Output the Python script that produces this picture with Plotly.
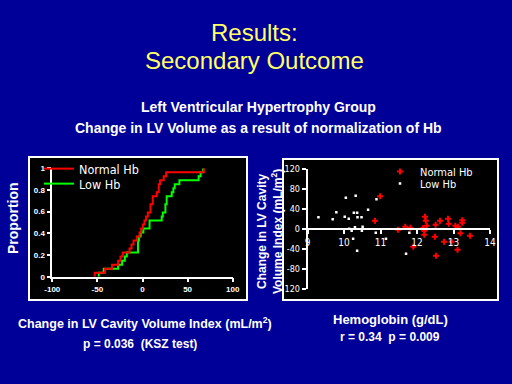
import plotly.graph_objects as go

# ---------------- data ----------------
# Left panel: change in LV cavity volume index (mL/m2), one value per patient
normal_change = [-53, -41.5, -33.7, -27, -24.4, -21.9, -14.4, -12.2, -10, -6.3, -3.3, -1.5,
                 0.4, 2.2, 4, 5.9, 8.8, 8.8, 11.4, 11.4, 15.8, 18, 18, 19.5, 23.5, 26.2, 68]
low_change = [-48.5, -43, -27, -22.6, -19.6, -17.4, -5, -5, -5, -4, -2, 1, 7.8, 7.8,
              21.3, 22.5, 25.4, 25.4, 26.8, 26.8, 32.4, 34.2, 35.7, 40.9, 62.2, 64.4, 67.3]

# Right panel: hemoglobin (g/dL) vs change in LV cavity volume index
normal_hb = [10.99, 10.85, 11.48, 11.68, 11.82, 11.9, 12.22, 12.24, 12.16, 12.2, 12.2, 12.27,
             12.51, 12.49, 12.52, 12.63, 12.74, 12.85, 12.87, 12.95, 13.05, 13.12, 13.11,
             13.19, 13.24, 13.24, 13.45]
normal_dv = [66, 17, -1, 5, 3, -35, 25, 17, 2, -3, -11, 7,
             9, -15, -53, 17, -25, 21, 11, -25, 7, 5, -41,
             -8, 18, 13, -13]
low_hb = [10.05, 10.32, 10.89, 10.66, 9.79, 10.27, 10.36, 10.37, 10.02, 9.3, 9.69, 10.13,
          10.48, 10.14, 10.3, 10.21, 10.49, 10.51, 10.25, 10.36, 10.87, 11.15, 11.7, 11.79]
low_dv = [63, 67, 60, 39, 34, 33, 33, 24, 25, 24, 20, 21,
          24, 1, 4, -3, -3, 5, -19, -43, -7, -19, -49, -7]

left_xticks = [-100, -50, 0, 50, 100]
left_yticks = [0, 0.2, 0.4, 0.6, 0.8, 1]
left_ylabels = ["0", "0.2", "0.4", "0.6", "0.8", "1"]
right_xticks = [9, 10, 11, 12, 13, 14]
right_yticks = [-120, -80, -40, 0, 40, 80, 120]

# ---------------- helpers ----------------
W, H = 512, 384
def px(x):
    return x / W
def py(y):
    return (H - y) / H

def ecdf(vals):
    s = sorted(vals)
    n = len(s)
    xs = [s[0]] + s
    ys = [0] + [(i + 1) / n for i in range(n)]
    return xs, ys

BG = "#000099"
YEL = "#FFFF66"
FONT = "Liberation Sans, Arial, sans-serif"
NARROW = "Liberation Sans Narrow, DejaVu Sans Condensed, sans-serif"

fig = go.Figure()

nx, ny = ecdf(normal_change)
lx, ly = ecdf(low_change)
fig.add_trace(go.Scatter(x=lx, y=ly, mode="lines", line=dict(color="#00FF00", width=2, shape="hv"),
                         name="Low Hb", xaxis="x", yaxis="y", legend="legend2", cliponaxis=False))
fig.add_trace(go.Scatter(x=nx, y=ny, mode="lines", line=dict(color="#FF0000", width=2, shape="hv"),
                         name="Normal Hb", xaxis="x", yaxis="y", legend="legend", cliponaxis=False))

fig.add_trace(go.Scatter(x=normal_hb, y=normal_dv, mode="markers",
                         marker=dict(symbol="cross", size=5, color="#FF0000", line=dict(width=0)),
                         name="Normal Hb", xaxis="x2", yaxis="y2", legend="legend3"))
fig.add_trace(go.Scatter(x=low_hb, y=low_dv, mode="markers",
                         marker=dict(symbol="square", size=2.5, color="#FFFFFF", line=dict(width=0)),
                         name="Low Hb", xaxis="x2", yaxis="y2", legend="legend4"))

# panel boxes
fig.add_shape(type="rect", xref="paper", yref="paper", x0=px(29), x1=px(247), y0=py(300), y1=py(157),
              fillcolor="black", line=dict(color="white", width=2), layer="below")
fig.add_shape(type="rect", xref="paper", yref="paper", x0=px(283), x1=px(498), y0=py(300), y1=py(159),
              fillcolor="black", line=dict(color="white", width=2), layer="below")

axis_common = dict(showgrid=False, zeroline=False, showline=True, linecolor="white", linewidth=1.5,
                   ticks="outside", tickcolor="white", ticklen=4, tickwidth=1.5, fixedrange=True,
                   automargin=False)

fig.update_layout(
    width=W, height=H, margin=dict(l=0, r=0, t=0, b=0, autoexpand=False),
    paper_bgcolor=BG, plot_bgcolor="rgba(0,0,0,0)",
    hovermode=False, showlegend=True,
    xaxis=dict(domain=[px(52.3), px(232.7)], range=[-100, 100], anchor="y",
               tickvals=left_xticks, ticktext=[str(v) for v in left_xticks],
               tickfont=dict(family=FONT, size=8, color="white", weight="bold"), **axis_common),
    yaxis=dict(domain=[py(276.7), py(168.2)], range=[0, 1], anchor="x",
               tickvals=left_yticks, ticktext=left_ylabels,
               tickfont=dict(family=FONT, size=8, color="white", weight="bold"), **axis_common),
    xaxis2=dict(domain=[px(307.5), px(490)], range=[9, 14], anchor="free", position=py(229.3),
                tickvals=right_xticks, ticktext=[str(v) for v in right_xticks],
                tickfont=dict(family=NARROW, size=10, color="white"), **axis_common),
    yaxis2=dict(domain=[py(289.3), py(169.3)], range=[-120, 120], anchor="x2",
                tickvals=right_yticks, ticktext=[str(v) for v in right_yticks],
                tickfont=dict(family=NARROW, size=9, color="white"), **axis_common),
    legend=dict(x=px(39), y=py(154), xanchor="left", yanchor="top", bgcolor="rgba(0,0,0,0)",
                font=dict(family=NARROW, size=12.5, color="white")),
    legend2=dict(x=px(39), y=py(169), xanchor="left", yanchor="top", bgcolor="rgba(0,0,0,0)",
                 font=dict(family=NARROW, size=12.5, color="white")),
    legend3=dict(x=px(380), y=py(157), xanchor="left", yanchor="top", bgcolor="rgba(0,0,0,0)",
                 font=dict(family=NARROW, size=11, color="white")),
    legend4=dict(x=px(380), y=py(169), xanchor="left", yanchor="top", bgcolor="rgba(0,0,0,0)",
                 font=dict(family=NARROW, size=11, color="white")),
)

ann = []
def text(x, y, s, size, color="white", weight="bold", angle=0, family=FONT):
    ann.append(dict(x=px(x), y=py(y), xref="paper", yref="paper", text=s, showarrow=False,
                    xanchor="center", yanchor="middle", textangle=angle,
                    font=dict(family=family, size=size, color=color, weight=weight)))

text(254, 32, "Results:", 24, color=YEL, weight="normal")
text(254, 60, "Secondary Outcome", 24, color=YEL, weight="normal")
text(258, 107, "Left Ventricular Hypertrophy Group", 14)
text(258, 128, "Change in LV Volume as a result of normalization of Hb", 14)
text(13, 218, "Proportion", 14, angle=-90)
text(270, 232, "Change in LV Cavity<br>Volume Index (mL/m<sup>2</sup>)", 12, angle=-90)
text(145, 323, "Change in LV Cavity Volume Index (mL/m<sup>2</sup>)", 12.5)
text(140, 344, "p = 0.036  (KSZ test)", 12)
text(390, 319, "Hemoglobin (g/dL)", 13)
text(390, 337, "r = 0.34  p = 0.009", 12)
fig.update_layout(annotations=ann)

fig.write_html("out.html", config={"displayModeBar": False},
               post_script="document.body.style.margin='0';document.body.style.overflow='hidden';")
